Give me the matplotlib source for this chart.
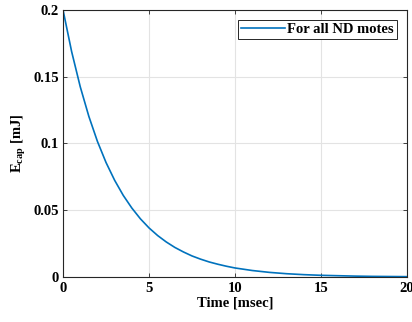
import matplotlib
matplotlib.use('Agg')
import matplotlib.pyplot as plt

# values
time_ms = [0, 0.5, 1, 1.5, 2, 2.5, 3, 3.5, 4, 4.5, 5, 5.5, 6, 6.5, 7, 7.5, 8, 8.5,
           9, 9.5, 10, 11, 12, 13, 14, 15, 16, 17, 18, 19, 20]
e_cap = [0.2, 0.1688, 0.1425, 0.1203, 0.1015, 0.0857, 0.0724, 0.0611, 0.0516,
         0.0435, 0.0367, 0.0310, 0.0262, 0.0221, 0.0187, 0.0157, 0.0133, 0.0112,
         0.0095, 0.0080, 0.0067, 0.0048, 0.0034, 0.0024, 0.0017, 0.0012, 0.0009,
         0.0006, 0.0004, 0.0003, 0.0002]
xticks = [0, 5, 10, 15, 20]
yticks = [0, 0.05, 0.1, 0.15, 0.2]
ytick_labels = ['0', '0.05', '0.1', '0.15', '0.2']

plt.rcParams['font.family'] = ['Liberation Serif', 'DejaVu Serif']
plt.rcParams['font.weight'] = 'bold'
plt.rcParams['mathtext.fontset'] = 'custom'
plt.rcParams['mathtext.bf'] = 'Liberation Serif:bold'
plt.rcParams['mathtext.rm'] = 'Liberation Serif:bold'

fs = 10.5

fig = plt.figure(figsize=(4.12, 3.22), dpi=100)
ax = fig.add_axes([0.153, 0.140, 0.835, 0.829])

ax.plot(time_ms, e_cap, color='#0072BD', lw=1.2, label='For all ND motes')

ax.set_xlim(0, 20)
ax.set_ylim(0, 0.2)
ax.set_xticks(xticks)
ax.set_xticklabels([str(t) for t in xticks])
ax.set_yticks(yticks)
ax.set_yticklabels(ytick_labels)
ax.tick_params(direction='in', top=True, right=True, labelsize=fs, length=3,
               width=0.6, color='#262626')
ax.tick_params(axis='x', pad=4)
ax.tick_params(axis='y', pad=3)
ax.grid(True, color='#e3e3e3', lw=0.8)
ax.set_axisbelow(True)
for s in ax.spines.values():
    s.set_color('#262626')
    s.set_linewidth(0.8)

ax.set_xlabel('Time [msec]', fontsize=fs, fontweight='bold', labelpad=1)
ax.set_ylabel(r'$\mathbf{E}_{\mathbf{cap}}$ [mJ]', fontsize=fs, fontweight='bold', labelpad=4)

leg = ax.legend(loc='upper right', fontsize=fs, frameon=True, fancybox=False,
                edgecolor='#262626', framealpha=1, handlelength=3.0,
                borderaxespad=0.7, borderpad=0.2, handletextpad=0.15)
leg.get_frame().set_linewidth(0.7)

fig.savefig('out.png', dpi=100)
